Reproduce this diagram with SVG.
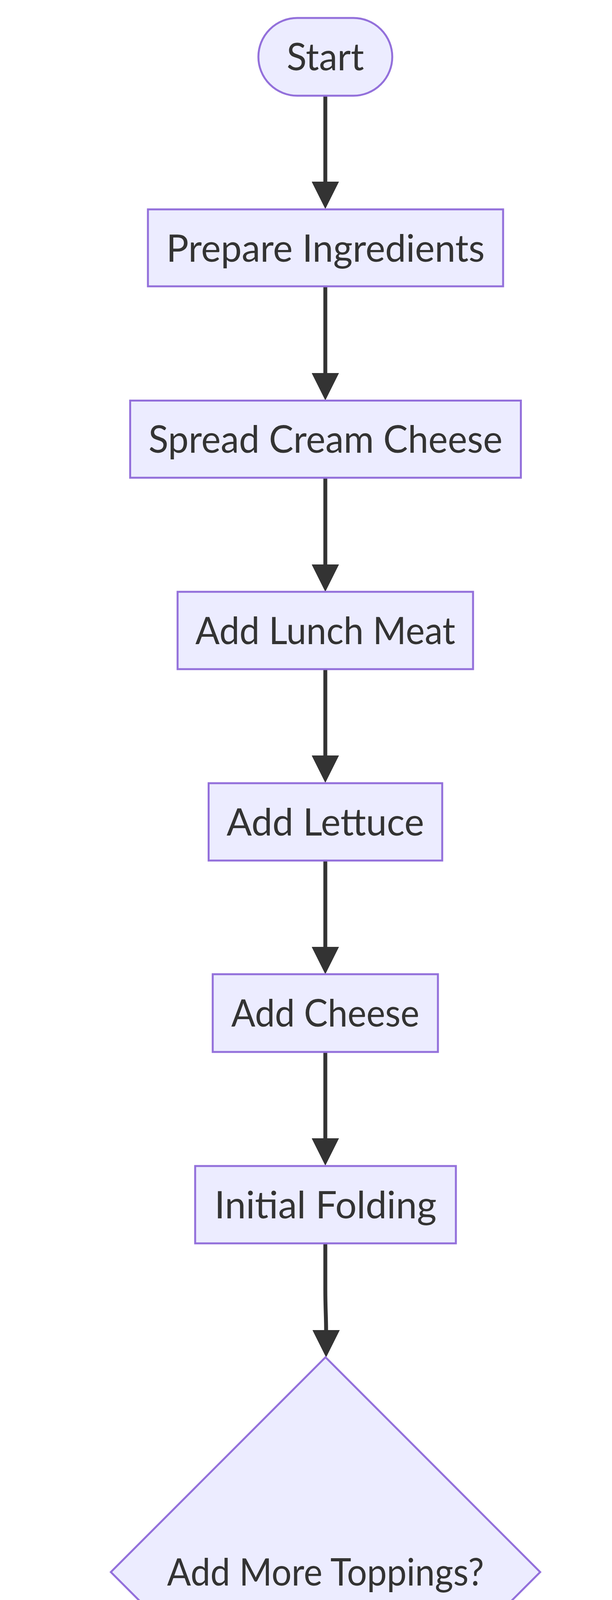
<svg xmlns="http://www.w3.org/2000/svg" width="1568" height="7254" viewBox="0 0 1568 7254">
<style>
.node{fill:#ECECFF;stroke:#9370DB;stroke-width:5}
.lbl{font-family:Lato,"Liberation Sans",sans-serif;font-size:96px;fill:#333333;text-anchor:middle}
.edge{fill:none;stroke:#333333;stroke-width:10}
.elbg{fill:#e8e8e8}
</style>
<defs>
<marker id="arrow" viewBox="0 0 10 10" refX="0" refY="5" markerUnits="userSpaceOnUse" markerWidth="70" markerHeight="70" orient="auto">
<path d="M0,0 L10,5 L0,10 z" fill="#333333"/>
</marker>
</defs>
<rect width="1568" height="7254" fill="#ffffff"/>
<g id="edges">
<path class="edge" marker-end="url(#arrow)" d="M833.5,245 L833.5,465"/>
<path class="edge" marker-end="url(#arrow)" d="M833.5,733 L833.5,955"/>
<path class="edge" marker-end="url(#arrow)" d="M833.5,1223 L833.5,1445"/>
<path class="edge" marker-end="url(#arrow)" d="M833.5,1713 L833.5,1934"/>
<path class="edge" marker-end="url(#arrow)" d="M833.5,2203 L833.5,2424"/>
<path class="edge" marker-end="url(#arrow)" d="M833.5,2693 L833.5,2914"/>
<path class="edge" marker-end="url(#arrow)" d="M833.5,3183 L833.5,3300 C833.5,3350 835.5,3370 835.5,3405"/>
<path class="edge" marker-end="url(#arrow)" d="M660,4402 L528,4700 C500,4765 485,4830 485,4905"/>
<path class="edge" marker-end="url(#arrow)" d="M1011,4402 L1085,4580 C1130,4690 1181,4800 1181,4990 L1181,5215 C1181,5275 1106,5360 1032.5,5424"/>
<path class="edge" marker-end="url(#arrow)" d="M485,5172 L485,5215 C485,5275 560,5360 634.5,5424"/>
<path class="edge" marker-end="url(#arrow)" d="M833.5,5662 L833.5,5886"/>
<path class="edge" marker-end="url(#arrow)" d="M834,6152 L834,6281 C834,6330 835.5,6340 835.5,6375"/>
<path class="edge" marker-end="url(#arrow)" d="M836.5,6641 C836.5,6690 834,6720 834,6760 L834,6864"/>
</g>
<g id="edge-labels">
<g id="label-yes">
<rect class="elbg" x="418" y="4721" width="132" height="107"/>
<text class="lbl" x="484" y="4809" textLength="128" lengthAdjust="spacingAndGlyphs">Yes</text>
</g>
<g id="label-no">
<rect class="elbg" x="1128" y="5020" width="111" height="105"/>
<text class="lbl" x="1183.5" y="5107" textLength="107" lengthAdjust="spacingAndGlyphs">No</text>
</g>
</g>
<g id="start">
<rect class="node" x="662" y="46" width="343" height="199" rx="99.5" ry="99.5"/>
<text class="lbl" x="833.5" y="180" textLength="198" lengthAdjust="spacingAndGlyphs">Start</text>
</g>
<g id="prepare">
<rect class="node" x="379" y="536" width="910" height="197"/>
<text class="lbl" x="834" y="670" textLength="816" lengthAdjust="spacingAndGlyphs">Prepare Ingredients</text>
</g>
<g id="spread">
<rect class="node" x="333.5" y="1025.5" width="1001" height="197.5"/>
<text class="lbl" x="834" y="1159" textLength="907" lengthAdjust="spacingAndGlyphs">Spread Cream Cheese</text>
</g>
<g id="lunch">
<rect class="node" x="455" y="1515" width="757" height="198"/>
<text class="lbl" x="833.5" y="1649" textLength="666" lengthAdjust="spacingAndGlyphs">Add Lunch Meat</text>
</g>
<g id="lettuce">
<rect class="node" x="534.5" y="2005" width="598.5" height="198"/>
<text class="lbl" x="833.5" y="2138.5" textLength="506" lengthAdjust="spacingAndGlyphs">Add Lettuce</text>
</g>
<g id="cheese">
<rect class="node" x="545" y="2494" width="577" height="199"/>
<text class="lbl" x="833.5" y="2628" textLength="482" lengthAdjust="spacingAndGlyphs">Add Cheese</text>
</g>
<g id="initial">
<rect class="node" x="500" y="2985" width="668" height="198"/>
<text class="lbl" x="834" y="3118.5" textLength="569" lengthAdjust="spacingAndGlyphs">Initial Folding</text>
</g>
<g id="decision">
<polygon class="node" points="834,3474.5 1384,4024.5 834,4574.5 284,4024.5"/>
<text class="lbl" x="834" y="4058.5" textLength="812" lengthAdjust="spacingAndGlyphs">Add More Toppings?</text>
</g>
<g id="more">
<rect class="node" x="46" y="4976" width="876" height="195"/>
<text class="lbl" x="485" y="5108" textLength="780" lengthAdjust="spacingAndGlyphs">Add more toppings</text>
</g>
<g id="complete">
<rect class="node" x="421" y="5465" width="826" height="197"/>
<text class="lbl" x="834" y="5597" textLength="732" lengthAdjust="spacingAndGlyphs">Complete Folding</text>
</g>
<g id="slice">
<rect class="node" x="469" y="5956" width="730" height="196"/>
<text class="lbl" x="834" y="6088" textLength="636" lengthAdjust="spacingAndGlyphs">Slice Pinwheels</text>
</g>
<g id="ready">
<polygon class="node" points="259,6445 1504,6445 1406,6641 161,6641"/>
<text class="lbl" x="836" y="6577" textLength="1119" lengthAdjust="spacingAndGlyphs">Pinwheel Appetizers Ready</text>
</g>
<g id="end">
<rect class="node" x="688" y="6934" width="292" height="195" rx="97.5" ry="97.5"/>
<text class="lbl" x="834" y="7066" textLength="148" lengthAdjust="spacingAndGlyphs">End</text>
</g>
</svg>
